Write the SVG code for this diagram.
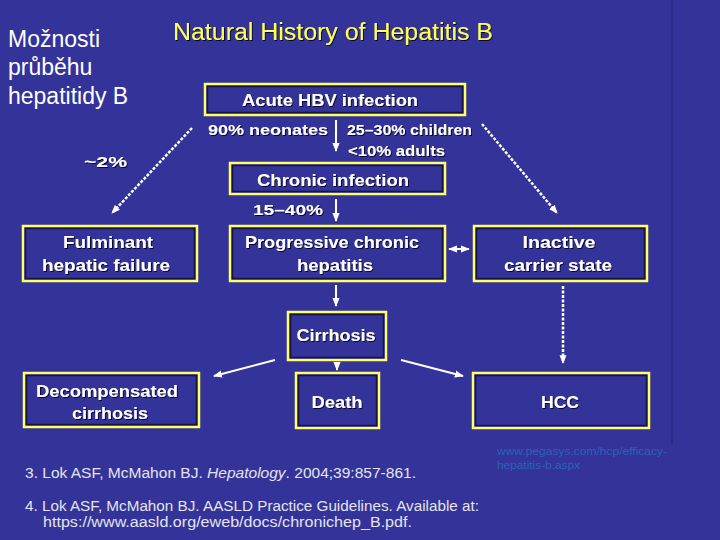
<svg xmlns="http://www.w3.org/2000/svg" width="720" height="540" viewBox="0 0 720 540">
<defs>
<style>
.box-o{fill:none;stroke:#ffff66;stroke-width:2.5}
.box-i{fill:#333399;stroke:#14144a;stroke-width:1.5}
.bt{font-family:"Liberation Sans",Arial,sans-serif;font-weight:bold;font-size:17px;fill:#ffffff;text-anchor:middle;filter:url(#sh)}
.lb{font-family:"Liberation Sans",Arial,sans-serif;font-weight:bold;font-size:15px;fill:#ffffff;filter:url(#sh)}
.ref{font-family:"Liberation Sans",Arial,sans-serif;font-size:14px;fill:#e4e4ee}
.solid{stroke:#ffffff;stroke-width:2;fill:none}
.dash{stroke:#ffffff;stroke-width:2.5;fill:none;stroke-dasharray:3 1.5}
</style>
<filter id="sh" x="-10%" y="-30%" width="130%" height="160%">
<feDropShadow dx="1" dy="1" stdDeviation="0.4" flood-color="#000022" flood-opacity="0.9"/>
</filter>
<marker id="ah" viewBox="0 0 10 10" refX="9" refY="5" markerWidth="4.5" markerHeight="4.5" orient="auto-start-reverse" markerUnits="strokeWidth">
<path d="M0,1 L10,5 L0,9 Z" fill="#ffffff"/>
</marker>
<marker id="ahd" viewBox="0 0 10 10" refX="9" refY="5" markerWidth="3.5" markerHeight="3.5" orient="auto" markerUnits="strokeWidth">
<path d="M0,1 L10,5 L0,9 Z" fill="#ffffff"/>
</marker>
</defs>
<rect x="0" y="0" width="720" height="540" fill="#333399"/>
<line x1="672" y1="0" x2="672" y2="445" stroke="#26267f" stroke-width="1"/>

<g id="side-title">
<text font-family="Liberation Sans,Arial,sans-serif" font-size="23" fill="#ffffff">
<tspan x="8" y="47">Možnosti</tspan>
<tspan x="8" y="75">průběhu</tspan>
<tspan x="8" y="104">hepatitidy B</tspan>
</text>
</g>
<g id="title">
<text x="173" y="40" font-family="Liberation Sans,Arial,sans-serif" font-size="23" fill="#ffff55" textLength="320" lengthAdjust="spacingAndGlyphs" filter="url(#sh)">Natural History of Hepatitis B</text>
</g>

<g id="connectors">
<line class="solid" x1="336" y1="120" x2="336" y2="151" marker-end="url(#ah)"/>
<line class="solid" x1="336" y1="199" x2="336" y2="221" marker-end="url(#ah)"/>
<line class="solid" x1="336" y1="285" x2="336" y2="306" marker-end="url(#ah)"/>
<line class="solid" x1="337" y1="363" x2="337" y2="370" marker-end="url(#ah)"/>
<line class="dash" x1="192" y1="128" x2="112" y2="213" marker-end="url(#ahd)"/>
<line class="dash" x1="482" y1="124" x2="557" y2="213" marker-end="url(#ahd)"/>
<line class="solid" x1="449" y1="249" x2="469" y2="249" marker-start="url(#ah)" marker-end="url(#ah)"/>
<line class="dash" x1="563" y1="286" x2="563" y2="363" marker-end="url(#ahd)"/>
<line class="solid" x1="275" y1="360" x2="214" y2="376" marker-end="url(#ah)"/>
<line class="solid" x1="401" y1="360" x2="463" y2="376" marker-end="url(#ah)"/>
</g>

<g id="labels">
<text class="lb" x="208" y="135" textLength="120" lengthAdjust="spacingAndGlyphs">90% neonates</text>
<text class="lb" x="347" y="135" textLength="125" lengthAdjust="spacingAndGlyphs">25–30% children</text>
<text class="lb" x="348" y="156" textLength="97" lengthAdjust="spacingAndGlyphs">&lt;10% adults</text>
<text class="lb" x="84" y="167" textLength="43" lengthAdjust="spacingAndGlyphs">~2%</text>
<text class="lb" x="253" y="215" textLength="70" lengthAdjust="spacingAndGlyphs">15–40%</text>
</g>

<g id="acute">
<rect class="box-o" x="205" y="84" width="260" height="31"/>
<rect class="box-i" x="207.5" y="86.5" width="255" height="26"/>
<text class="bt" x="330" y="106" textLength="176" lengthAdjust="spacingAndGlyphs">Acute HBV infection</text>
</g>
<g id="chronic">
<rect class="box-o" x="230" y="163" width="215" height="31"/>
<rect class="box-i" x="232.5" y="165.5" width="210" height="26"/>
<text class="bt" x="333" y="186" textLength="152" lengthAdjust="spacingAndGlyphs">Chronic infection</text>
</g>
<g id="fulminant">
<rect class="box-o" x="23" y="226" width="174" height="55"/>
<rect class="box-i" x="25.5" y="228.5" width="169" height="50"/>
<text class="bt" x="108" y="248" textLength="90" lengthAdjust="spacingAndGlyphs">Fulminant</text>
<text class="bt" x="106" y="271" textLength="128" lengthAdjust="spacingAndGlyphs">hepatic failure</text>
</g>
<g id="progressive">
<rect class="box-o" x="230" y="226" width="215" height="55"/>
<rect class="box-i" x="232.5" y="228.5" width="210" height="50"/>
<text class="bt" x="332" y="248" textLength="174" lengthAdjust="spacingAndGlyphs">Progressive chronic</text>
<text class="bt" x="335" y="271" textLength="76" lengthAdjust="spacingAndGlyphs">hepatitis</text>
</g>
<g id="inactive">
<rect class="box-o" x="474" y="226" width="173" height="55"/>
<rect class="box-i" x="476.5" y="228.5" width="168" height="50"/>
<text class="bt" x="559" y="248" textLength="73" lengthAdjust="spacingAndGlyphs">Inactive</text>
<text class="bt" x="558" y="271" textLength="108" lengthAdjust="spacingAndGlyphs">carrier state</text>
</g>
<g id="cirrhosis">
<rect class="box-o" x="288" y="312" width="98" height="48"/>
<rect class="box-i" x="290.5" y="314.5" width="93" height="43"/>
<text class="bt" x="336" y="341" textLength="79" lengthAdjust="spacingAndGlyphs">Cirrhosis</text>
</g>
<g id="decompensated">
<rect class="box-o" x="24" y="373" width="175" height="54"/>
<rect class="box-i" x="26.5" y="375.5" width="170" height="49"/>
<text class="bt" x="107" y="397" textLength="142" lengthAdjust="spacingAndGlyphs">Decompensated</text>
<text class="bt" x="110" y="419" textLength="76" lengthAdjust="spacingAndGlyphs">cirrhosis</text>
</g>
<g id="death">
<rect class="box-o" x="296" y="373" width="83" height="55"/>
<rect class="box-i" x="298.5" y="375.5" width="78" height="50"/>
<text class="bt" x="337" y="408" textLength="51" lengthAdjust="spacingAndGlyphs">Death</text>
</g>
<g id="hcc">
<rect class="box-o" x="473" y="373" width="176" height="55"/>
<rect class="box-i" x="475.5" y="375.5" width="171" height="50"/>
<text class="bt" x="560" y="408" textLength="38" lengthAdjust="spacingAndGlyphs">HCC</text>
</g>

<g id="source-url">
<text font-family="Liberation Sans,Arial,sans-serif" font-size="11.5" fill="#2c62b8">
<tspan x="497" y="455" textLength="170" lengthAdjust="spacingAndGlyphs">www.pegasys.com/hcp/efficacy-</tspan>
<tspan x="497" y="469" textLength="83" lengthAdjust="spacingAndGlyphs">hepatitis-b.aspx</tspan>
</text>
</g>
<g id="references">
<text class="ref" x="25" y="478" textLength="391" lengthAdjust="spacingAndGlyphs">3. Lok ASF, McMahon BJ. <tspan font-style="italic">Hepatology</tspan>. 2004;39:857-861.</text>
<text class="ref" x="25" y="511" textLength="454" lengthAdjust="spacingAndGlyphs">4. Lok ASF, McMahon BJ. AASLD Practice Guidelines. Available at:</text>
<text class="ref" x="43" y="527" textLength="369" lengthAdjust="spacingAndGlyphs">https://www.aasld.org/eweb/docs/chronichep_B.pdf.</text>
</g>
</svg>
